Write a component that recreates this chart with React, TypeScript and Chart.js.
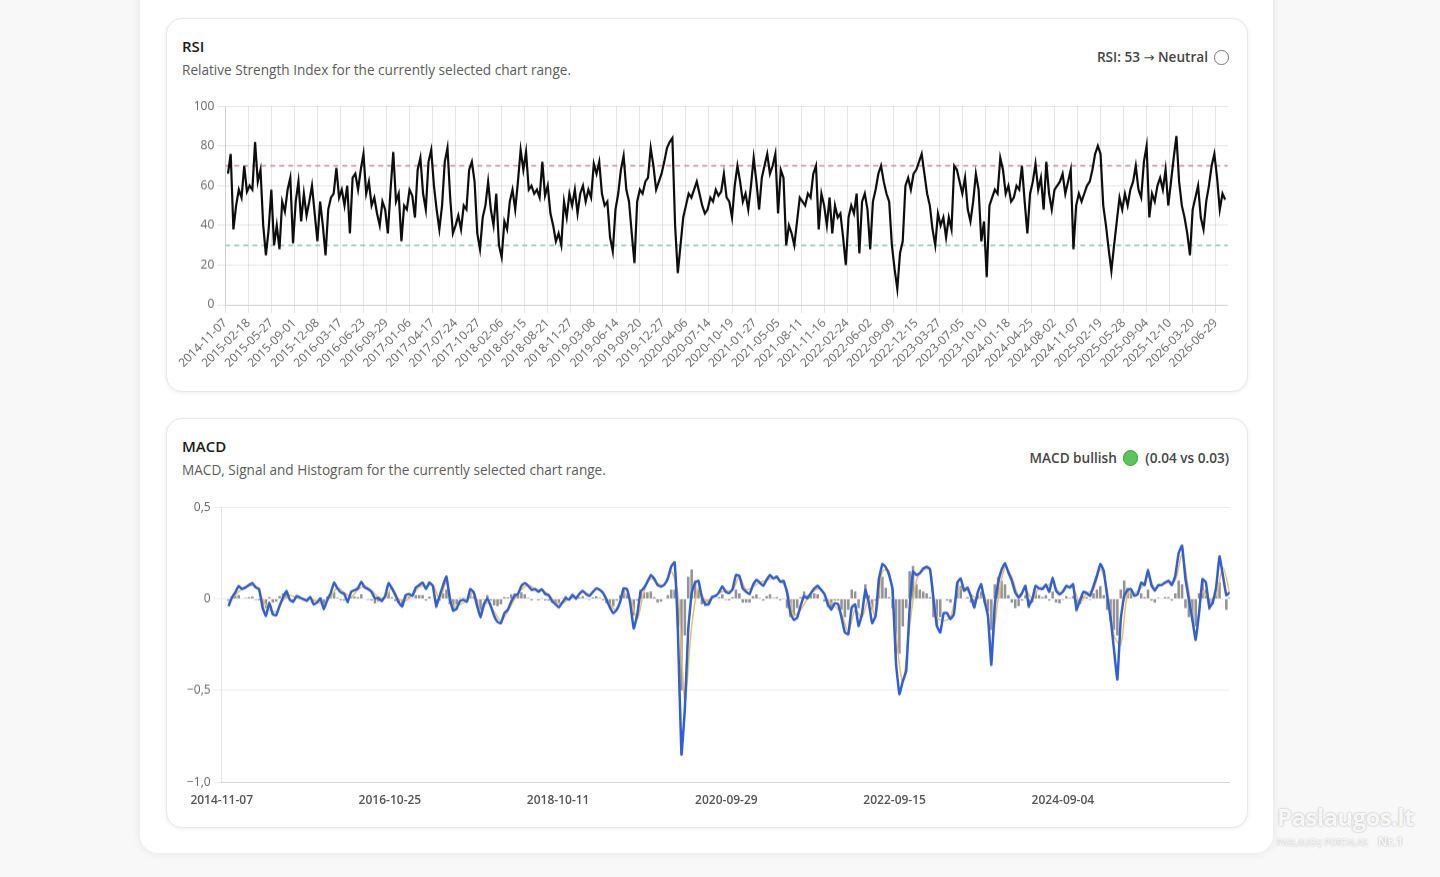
import React, { useEffect, useRef } from 'react';
import { Chart, registerables } from 'chart.js';

Chart.register(...registerables);

const FONT = '"Open Sans", "Noto Sans", sans-serif';

// ---------- shared x range (trading-day index) ----------
const X_MAX = 2960;

// ---------- RSI ----------
const RSI_START = 8;
const RSI_STEP = 8;
const RSI_VALUES = [
  66, 76, 38, 50, 58, 54, 70, 57, 60, 58,
  82, 62, 68, 40, 25, 38, 58, 30, 40, 28,
  52, 47, 58, 64, 31, 52, 62, 42, 56, 45,
  52, 60, 46, 32, 52, 40, 25, 48, 54, 56,
  69, 54, 58, 50, 60, 36, 64, 66, 58, 68,
  76, 56, 62, 50, 54, 46, 40, 52, 48, 36,
  58, 77, 52, 56, 32, 50, 48, 58, 55, 44,
  68, 74, 56, 48, 72, 78, 60, 48, 38, 50,
  72, 79, 54, 36, 40, 45, 38, 50, 48, 68,
  72, 62, 36, 28, 44, 50, 62, 48, 40, 56,
  30, 24, 42, 38, 52, 58, 48, 62, 78, 68,
  77, 58, 60, 56, 58, 54, 72, 55, 60, 46,
  40, 32, 36, 30, 52, 44, 56, 50, 58, 46,
  56, 60, 52, 58, 54, 71, 66, 72, 56, 50,
  52, 34, 27, 48, 56, 68, 75, 58, 52, 36,
  21, 52, 58, 56, 62, 64, 79, 70, 58, 62,
  66, 72, 79, 82, 84, 40, 16, 30, 44, 50,
  56, 54, 58, 62, 56, 50, 46, 48, 54, 52,
  58, 55, 57, 66, 54,
  52, 44, 60, 70, 62, 52, 56, 48, 60, 74,
  62, 48, 64, 70, 76, 66, 70, 76, 46, 68,
  64, 30, 40, 36, 30, 42, 54, 52, 50, 56,
  54, 66, 70, 38, 56, 50, 40, 54, 36, 50,
  44, 46, 34, 20, 44, 50, 46, 56, 26, 52,
  56, 48, 28, 52, 58, 66, 70, 62, 56, 52,
  30, 18, 8, 26, 32, 60, 64, 58, 66, 68,
  72, 76, 66, 56, 50, 38, 30, 46, 40, 44,
  34, 44, 38, 70, 68, 62, 56, 64, 48, 42,
  52, 66, 58, 32,
  42, 14, 50, 54, 58, 56, 74, 68, 56, 60,
  52, 54, 60, 58, 70, 52, 36, 56, 62, 71,
  58, 64, 48, 72, 56, 48, 58, 60, 62, 66,
  56, 62, 68, 28, 50, 56, 52, 56, 60, 62,
  68, 76, 80, 76, 50, 40, 28, 17, 30, 42,
  54, 48, 56, 50, 58, 62, 70, 58, 54, 72,
  80, 44, 56, 52, 60, 64, 58, 68, 50, 62,
  74, 85, 62, 50, 44, 36, 25, 48, 54, 60,
  44, 38, 52, 60, 70, 76, 64, 48, 56, 53,
];
const RSI_OVERBOUGHT = 70;
const RSI_OVERSOLD = 30;
const RSI_Y_TICKS = [0, 20, 40, 60, 80, 100];
const RSI_TICK_STEP = 68;
const RSI_X_LABELS = [
  '2014-11-07', '2015-02-18', '2015-05-27', '2015-09-01', '2015-12-08', '2016-03-17',
  '2016-06-23', '2016-09-29', '2017-01-06', '2017-04-17', '2017-07-24', '2017-10-27',
  '2018-02-06', '2018-05-15', '2018-08-21', '2018-11-27', '2019-03-08', '2019-06-14',
  '2019-09-20', '2019-12-27', '2020-04-06', '2020-07-14', '2020-10-19', '2021-01-27',
  '2021-05-05', '2021-08-11', '2021-11-16', '2022-02-24', '2022-06-02', '2022-09-09',
  '2022-12-15', '2023-03-27', '2023-07-05', '2023-10-10', '2024-01-18', '2024-04-25',
  '2024-08-02', '2024-11-07', '2025-02-19', '2025-05-28', '2025-09-04', '2025-12-10',
  '2026-03-20', '2026-06-29',
];

// ---------- MACD ----------
const MACD_START = 20;
const MACD_STEP = 10;
const MACD_VALUES = [
  -0.04, 0.007, 0.035, 0.07, 0.053, 0.062, 0.075, 0.086, 0.062, 0.053,
  -0.047, -0.093, -0.02, -0.084, -0.09, -0.038, 0.007, 0.044, -0.005, -0.016,
  0.016, 0.007, -0.002, -0.011, 0.011, -0.03, -0.02, 0.002, -0.057, -0.005,
  0.031, 0.089, 0.057, 0.035, 0.026, -0.016, 0.038, 0.047, 0.057, 0.093,
  0.062, 0.053, 0.038, 0.002, 0.005, -0.011, 0.016, 0.086, 0.057, 0.02,
  -0.02, -0.042, 0.02, 0.026, 0.016, 0.062, 0.075, 0.089, 0.053, 0.089,
  0.071, -0.038, 0.016, 0.075, 0.122, -0.002, -0.066, -0.053, -0.011, -0.005,
  -0.016, 0.053, 0.035, -0.038, -0.102, -0.029, 0.002, -0.038, -0.093, -0.126,
  -0.133, -0.078, -0.06, -0.016, 0.016, 0.026, 0.071, 0.086, 0.071, 0.049,
  0.053, 0.038, 0.053, 0.026, 0.02, -0.011, -0.029, -0.047, -0.02, 0.005,
  -0.005, 0.022, 0.002, 0.026, 0.044, 0.026, 0.016, 0.038, 0.057, 0.049,
  0.031, -0.005, -0.047, -0.078, -0.06, -0.016, 0.057, 0.053, -0.029, -0.162,
  -0.089, 0.038, 0.06, 0.093, 0.13, 0.111, 0.075, 0.066, 0.078, 0.111,
  0.177, 0.2, -0.2, -0.85, -0.6, -0.166, 0.031, 0.089, 0.099, 0.007,
  -0.03, -0.03, 0.011, 0.016, 0.035, 0.068, 0.038, 0.031, 0.053, 0.13,
  0.126, 0.057, 0.038, 0.026, 0.075, 0.104, 0.089, 0.071, 0.104, 0.13,
  0.111, 0.122, 0.093, 0.099, 0.035, -0.078, -0.115, -0.102, -0.038, 0.016,
  0.002, 0.031, 0.057, 0.071, 0.049, 0.026, -0.029, -0.06, -0.024, -0.029,
  -0.102, -0.184, -0.193, -0.047, -0.03, -0.148, -0.084, 0.049, -0.02, -0.133,
  -0.093, 0.108, 0.19, 0.172, 0.13, 0.053, -0.35, -0.52, -0.45, -0.394,
  -0.057, 0.148, 0.13, 0.14, 0.166, 0.175, 0.162, -0.002, -0.148, -0.184,
  -0.078, -0.078, -0.111, -0.084, 0.089, 0.111, 0.044, 0.062, 0.013, -0.047,
  0.035, 0.08, -0.011, -0.093, -0.36, -0.038, 0.089, 0.159, 0.195, 0.144,
  0.099, 0.035, 0.007, 0.031, 0.071, -0.038, -0.002, 0.071, 0.057, 0.053,
  0.078, 0.038, 0.117, 0.044, 0.024, 0.038, 0.071, 0.062, 0.08, -0.057,
  -0.011, 0.038, 0.031, 0.016, 0.071, 0.126, 0.19, 0.153, 0.016, -0.102,
  -0.276, -0.44, -0.111, 0.016, 0.049, 0.053, 0.016, 0.026, 0.089, 0.075,
  0.159, 0.075, 0.044, 0.075, 0.075, 0.089, 0.099, 0.075, 0.126, 0.25,
  0.29, 0.108, -0.002, -0.111, -0.224, -0.075, 0.108, 0.089, -0.047, -0.02,
  0.062, 0.232, 0.126, 0.02, 0.035,
];
const SIGNAL_START = 20;
const SIGNAL_STEP = 20;
const SIGNAL_VALUES = [
  -0.02, 0.02, 0.055, 0.07, 0.07, 0.0, -0.06, -0.07, -0.01, 0.02,
  0.005, 0.0, 0.0, -0.015, -0.03, 0.01, 0.06, 0.035, 0.01, 0.05,
  0.07, 0.045, 0.01, 0.005, 0.06, 0.0, -0.01, 0.02, 0.065, 0.07,
  0.075, 0.0, 0.09, -0.04, -0.03, -0.01, 0.04, -0.07, -0.02, -0.07,
  -0.12, -0.07, 0.0, 0.05, 0.075, 0.055, 0.045, 0.025, -0.02, -0.025,
  0.0, 0.01, 0.035, 0.025, 0.05, 0.035, -0.03, -0.06, 0.03, 0.0,
  -0.11, 0.04, 0.11, 0.085, 0.075, 0.15, 0.02, -0.55, -0.15, 0.06,
  -0.01, 0.005, 0.03, 0.045, 0.045, 0.12, 0.05, 0.065, 0.09, 0.1,
  0.115, 0.1, 0.05, -0.09, -0.06, 0.0, 0.045, 0.055, -0.01, -0.04,
  -0.08, -0.18, -0.06, -0.1, 0.0, -0.1, 0.15, 0.15, -0.2, -0.45,
  -0.15, 0.1, 0.155, 0.16, -0.1, -0.12, -0.1, 0.04, 0.06, 0.025,
  0.0, 0.02, -0.25, 0.0, 0.17, 0.12, 0.02, 0.05, 0.0, 0.06,
  0.065, 0.09, 0.035, 0.06, 0.06, -0.02, 0.03, 0.05, 0.16, 0.05,
  -0.2, -0.25, 0.03, 0.03, 0.06, 0.12, 0.06, 0.075, 0.09, 0.1,
  0.24, 0.04, -0.18, 0.04, 0.0, 0.02, 0.17, 0.03,
];
const HIST_VALUES = [
  -0.01, 0.01, 0.015, 0.02, 0.0, 0.005, 0.01, 0.012, -0.005, -0.008,
  -0.04, -0.05, 0.01, -0.02, -0.015, 0.015, 0.03, 0.035, 0.0, -0.008,
  0.008, 0.002, -0.004, -0.008, 0.006, -0.012, -0.004, 0.008, -0.025, 0.012,
  0.02, 0.035, 0.005, -0.008, -0.01, -0.025, 0.012, 0.012, 0.01, 0.025,
  0.0, -0.005, -0.01, -0.025, -0.015, -0.018, 0.004, 0.035, 0.01, -0.012,
  -0.025, -0.03, 0.01, 0.012, 0.002, 0.02, 0.02, 0.02, -0.01, 0.012,
  0.0, -0.05, -0.01, 0.03, 0.05, -0.03, -0.055, -0.03, 0.005, 0.006,
  -0.004, 0.03, 0.012, -0.03, -0.06, -0.005, 0.02, -0.01, -0.035, -0.04,
  -0.03, 0.01, 0.008, 0.025, 0.03, 0.025, 0.035, 0.025, 0.005, -0.008,
  0.0, -0.008, 0.004, -0.01, -0.01, -0.02, -0.02, -0.022, 0.004, 0.015,
  0.002, 0.01, -0.005, 0.008, 0.015, -0.002, -0.006, 0.008, 0.015, 0.005,
  -0.008, -0.025, -0.04, -0.04, -0.01, 0.02, 0.045, 0.025, -0.03, -0.09,
  -0.01, 0.05, 0.035, 0.035, 0.04, 0.01, -0.02, -0.015, 0.0, 0.02,
  0.05, 0.05, -0.15, -0.5, -0.2, 0.12, 0.16, 0.1, 0.05, -0.03,
  -0.04, -0.03, 0.0, 0.0, 0.01, 0.025, -0.005, -0.008, 0.01, 0.05,
  0.03, -0.02, -0.02, -0.02, 0.015, 0.025, 0.005, -0.01, 0.015, 0.025,
  0.005, 0.01, -0.008, -0.002, -0.05, -0.1, -0.09, -0.05, 0.01, 0.04,
  0.02, 0.03, 0.03, 0.025, 0.0, -0.015, -0.045, -0.05, -0.01, -0.01,
  -0.06, -0.1, -0.06, 0.05, 0.04, -0.05, 0.0, 0.08, 0.02, -0.06,
  -0.01, 0.12, 0.12, 0.06, 0.01, -0.05, -0.3, -0.3, -0.15, -0.05,
  0.15, 0.18, 0.08, 0.05, 0.04, 0.03, 0.01, -0.1, -0.15, -0.1,
  0.0, -0.01, -0.02, 0.0, 0.09, 0.07, 0.0, 0.01, -0.02, -0.05,
  0.02, 0.04, -0.02, -0.07, -0.17, 0.08, 0.12, 0.1, 0.08, 0.02,
  -0.02, -0.05, -0.04, -0.01, 0.02, -0.05, -0.02, 0.04, 0.02, 0.01,
  0.02, -0.01, 0.04, -0.02, -0.025, -0.005, 0.015, 0.005, 0.015, -0.07,
  -0.03, 0.015, 0.01, -0.005, 0.03, 0.05, 0.07, 0.02, -0.06, -0.12,
  -0.17, -0.2, 0.05, 0.1, 0.06, 0.04, 0.0, 0.0, 0.03, 0.01,
  0.05, -0.01, -0.02, 0.005, 0.0, 0.01, 0.01, -0.01, 0.03, 0.1,
  0.08, -0.05, -0.1, -0.12, -0.15, 0.03, 0.1, 0.05, -0.06, -0.03,
  0.03, 0.09, 0.0, -0.06, 0.01,
];
const MACD_TICK_STEP = 494;
const MACD_X_LABELS = ['2014-11-07', '2016-10-25', '2018-10-11', '2020-09-29', '2022-09-15', '2024-09-04'];
const MACD_Y_TICKS = [-1, -0.5, 0, 0.5];
const MACD_Y_LABELS = ['\u22121,0', '\u22120,5', '0', '0,5'];

const toPoints = (values: number[], start: number, step: number) =>
  values.map((v, j) => ({ x: start + j * step, y: v }));

const tickFont = { family: FONT, size: 12 };

function RsiChart() {
  const ref = useRef<HTMLCanvasElement>(null);
  useEffect(() => {
    const chart = new Chart(ref.current as HTMLCanvasElement, {
      type: 'line',
      data: {
        datasets: [
          {
            label: 'RSI',
            data: toPoints(RSI_VALUES, RSI_START, RSI_STEP),
            borderColor: '#0d0d0d',
            borderWidth: 2.2,
            pointRadius: 0,
            tension: 0,
          },
          {
            label: 'Overbought',
            data: [{ x: 0, y: RSI_OVERBOUGHT }, { x: X_MAX, y: RSI_OVERBOUGHT }],
            borderColor: 'rgba(196,128,128,0.9)',
            borderWidth: 1.5,
            borderDash: [5, 4],
            pointRadius: 0,
          },
          {
            label: 'Oversold',
            data: [{ x: 0, y: RSI_OVERSOLD }, { x: X_MAX, y: RSI_OVERSOLD }],
            borderColor: 'rgba(128,190,158,0.9)',
            borderWidth: 1.5,
            borderDash: [5, 4],
            pointRadius: 0,
          },
        ],
      } as any,
      options: {
        animation: false,
        responsive: true,
        maintainAspectRatio: false,
        plugins: { legend: { display: false }, tooltip: { enabled: false } },
        scales: {
          x: {
            type: 'linear',
            min: 0,
            max: X_MAX,
            offset: false,
            afterBuildTicks: (scale: any) => {
              scale.ticks = RSI_X_LABELS.map((_, j) => ({ value: j * RSI_TICK_STEP }));
            },
            ticks: {
              autoSkip: false,
              minRotation: 45,
              maxRotation: 45,
              color: '#666',
              font: tickFont,
              callback: (v: any) => RSI_X_LABELS[Math.round(Number(v) / RSI_TICK_STEP)] ?? '',
            },
            grid: { color: 'rgba(0,0,0,0.1)' },
          },
          y: {
            min: 0,
            max: 100,
            afterBuildTicks: (scale: any) => {
              scale.ticks = RSI_Y_TICKS.map((v) => ({ value: v }));
            },
            ticks: { color: '#666', font: tickFont },
            grid: { color: 'rgba(0,0,0,0.1)' },
          },
        },
      } as any,
    });
    return () => chart.destroy();
  }, []);
  return <canvas ref={ref} />;
}

function MacdChart() {
  const ref = useRef<HTMLCanvasElement>(null);
  useEffect(() => {
    const chart = new Chart(ref.current as HTMLCanvasElement, {
      type: 'line',
      data: {
        datasets: [
          {
            type: 'line',
            label: 'MACD',
            data: toPoints(MACD_VALUES, MACD_START, MACD_STEP),
            borderColor: '#2f5fd3',
            borderWidth: 2.5,
            pointRadius: 0,
            tension: 0.1,
            order: 1,
          },
          {
            type: 'line',
            label: 'Signal',
            data: toPoints(SIGNAL_VALUES, SIGNAL_START, SIGNAL_STEP),
            borderColor: '#f0bf55',
            borderWidth: 1.5,
            pointRadius: 0,
            tension: 0.3,
            order: 2,
          },
          {
            type: 'bar',
            label: 'Histogram',
            data: toPoints(HIST_VALUES, MACD_START, MACD_STEP),
            backgroundColor: 'rgba(128,128,128,0.85)',
            barPercentage: 0.75,
            categoryPercentage: 1,
            order: 3,
          },
        ],
      } as any,
      options: {
        animation: false,
        responsive: true,
        maintainAspectRatio: false,
        plugins: { legend: { display: false }, tooltip: { enabled: false } },
        scales: {
          x: {
            type: 'linear',
            min: 0,
            max: X_MAX,
            offset: false,
            afterBuildTicks: (scale: any) => {
              scale.ticks = MACD_X_LABELS.map((_, j) => ({ value: j * MACD_TICK_STEP }));
            },
            ticks: {
              autoSkip: false,
              maxRotation: 0,
              minRotation: 0,
              color: '#555',
              font: { family: FONT, size: 12, weight: '600' },
              callback: (v: any) => MACD_X_LABELS[Math.round(Number(v) / MACD_TICK_STEP)] ?? '',
            },
            grid: { display: true, drawOnChartArea: false, tickColor: 'transparent' },
            border: { display: true, color: 'rgba(0,0,0,0.1)' },
          },
          y: {
            min: -1,
            max: 0.5,
            afterBuildTicks: (scale: any) => {
              scale.ticks = MACD_Y_TICKS.map((v) => ({ value: v }));
            },
            ticks: {
              color: '#666',
              font: tickFont,
              callback: (v: any) => MACD_Y_LABELS[MACD_Y_TICKS.indexOf(Number(v))] ?? '',
            },
            grid: { color: 'rgba(0,0,0,0.08)' },
            border: { color: 'rgba(0,0,0,0.1)' },
          },
        },
      } as any,
    });
    return () => chart.destroy();
  }, []);
  return <canvas ref={ref} />;
}

const cardStyle: React.CSSProperties = {
  position: 'absolute',
  left: 166,
  width: 1082,
  background: '#fff',
  border: '1px solid #e8e8e8',
  borderRadius: 16,
  boxShadow: '0 1px 5px rgba(0,0,0,0.07)',
  boxSizing: 'border-box',
};

const titleStyle: React.CSSProperties = {
  position: 'absolute',
  left: 15,
  top: 17,
  fontFamily: FONT,
  fontSize: 15,
  fontWeight: 600,
  lineHeight: '20px',
  color: '#1b1b1b',
};

const subStyle: React.CSSProperties = {
  position: 'absolute',
  left: 15,
  top: 42,
  fontFamily: FONT,
  fontSize: 13.6,
  lineHeight: '18px',
  color: '#5c5c5c',
};

const statusStyle: React.CSSProperties = {
  position: 'absolute',
  right: 18,
  top: 29,
  display: 'flex',
  alignItems: 'center',
  gap: 6,
  fontFamily: FONT,
  fontSize: 13.6,
  fontWeight: 600,
  lineHeight: '18px',
  color: '#454545',
  whiteSpace: 'nowrap',
};

export default function App() {
  return (
    <div style={{ position: 'relative', width: 1440, height: 877, overflow: 'hidden', background: '#f8f8f8' }}>
      <style>{'html,body{margin:0;padding:0;background:#f8f8f8;}'}</style>
      {/* outer panel */}
      <div
        style={{
          position: 'absolute',
          left: 140,
          top: -40,
          width: 1133,
          height: 893,
          background: '#fff',
          borderRadius: 18,
          boxShadow: '0 0 10px rgba(0,0,0,0.09)',
        }}
      />
      {/* RSI card */}
      <div style={{ ...cardStyle, top: 18, height: 374 }}>
        <div style={titleStyle}>RSI</div>
        <div style={subStyle}>Relative Strength Index for the currently selected chart range.</div>
        <div style={{ ...statusStyle, right: 18.5 }}>
          <span>
            RSI: 53 <span style={{ fontFamily: '"DejaVu Sans", sans-serif', fontWeight: 400, fontSize: 13 }}>→</span> Neutral
          </span>
          <span
            style={{
              display: 'inline-block',
              width: 12.5,
              height: 12.5,
              borderRadius: '50%',
              border: '1.3px solid #777',
              background: '#fff',
            }}
          />
        </div>
      </div>
      <div style={{ position: 'absolute', left: 178, top: 96.3, width: 1051, height: 276.5 }}>
        <RsiChart />
      </div>

      {/* MACD card */}
      <div style={{ ...cardStyle, top: 418, height: 410 }}>
        <div style={titleStyle}>MACD</div>
        <div style={subStyle}>MACD, Signal and Histogram for the currently selected chart range.</div>
        <div style={{ ...statusStyle, top: 30 }}>
          <span>MACD bullish</span>
          <span
            style={{
              display: 'inline-block',
              width: 13.5,
              height: 13.5,
              borderRadius: '50%',
              border: '1px solid #3f9e3f',
              background: '#58c658',
            }}
          />
          <span style={{ marginLeft: 1 }}>(0.04 vs 0.03)</span>
        </div>
      </div>
      <div style={{ position: 'absolute', left: 184, top: 497, width: 1047, height: 312.5 }}>
        <MacdChart />
      </div>

      {/* watermark */}
      <div style={{ position: 'absolute', left: 1277, top: 801, fontFamily: FONT, color: 'rgba(255,255,255,0.92)', textShadow: '0 0 2px rgba(0,0,0,0.35)' }}>
        <div style={{ fontSize: 24, fontWeight: 700, letterSpacing: -0.6, lineHeight: '32px' }}>Paslaugos.lt</div>
        <div style={{ display: 'flex', alignItems: 'baseline', gap: 10, marginTop: 0 }}>
          <span style={{ fontSize: 8.5, letterSpacing: 0.2 }}>PASLAUGŲ PORTALAS</span>
          <span style={{ fontSize: 12, fontWeight: 700 }}>Nr.1</span>
        </div>
      </div>
    </div>
  );
}
